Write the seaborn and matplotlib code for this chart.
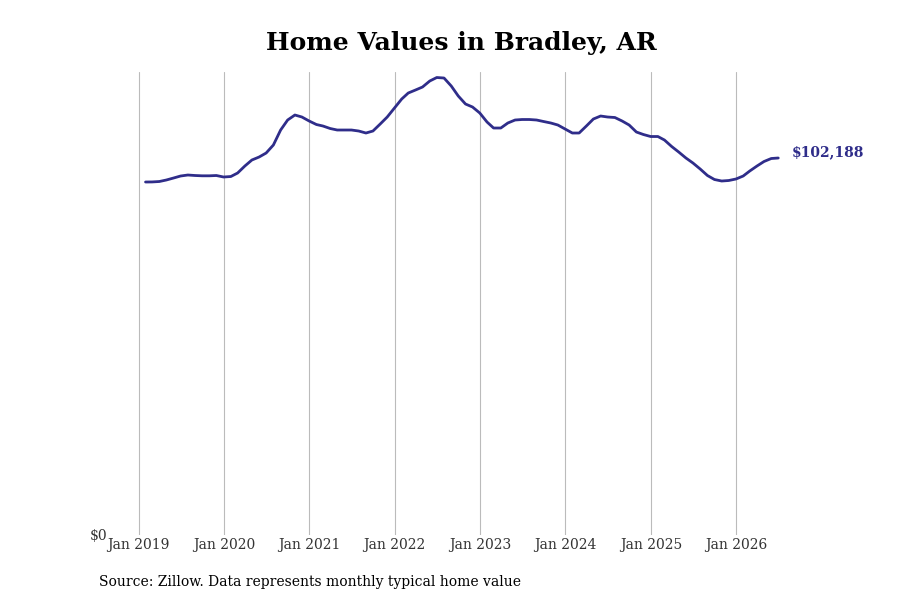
import pandas as pd
import numpy as np
import matplotlib
matplotlib.use("Agg")
import matplotlib.pyplot as plt
import matplotlib.dates as mdates
from matplotlib.ticker import FixedLocator, FuncFormatter
import seaborn as sns

start_month = "2019-01-31"
n_months = 90
home_values = [
    95681, 95700, 95816, 96223, 96765, 97307, 97578, 97443, 97362, 97362, 97443, 97036,
    97171, 98120, 100017, 101644, 102457, 103541, 105710, 109775, 112486, 113841, 113299, 112215,
    111266, 110859, 110182, 109775, 109775, 109775, 109504, 108962, 109504, 111402, 113299, 115738,
    118178, 119804, 120617, 121430, 123057, 124005, 123870, 121701, 118991, 116823, 116009, 114383,
    111944, 110317, 110317, 111673, 112486, 112622, 112622, 112486, 112079, 111673, 111131, 110046,
    108962, 108962, 110859, 112757, 113570, 113299, 113163, 112215, 111131, 109233, 108555, 108013,
    108013, 107065, 105303, 103812, 102186, 100831, 99204, 97443, 96358, 95952, 96087, 96494,
    97307, 98662, 100017, 101238, 102051, 102188,
]
tick_years = [2019, 2020, 2021, 2022, 2023, 2024, 2025, 2026]
tick_labels = [f"Jan {y}" for y in tick_years]
title = "Home Values in Bradley, AR"
source = "Source: Zillow. Data represents monthly typical home value"
end_label = "$102,188"

dates = pd.date_range(start_month, periods=n_months, freq="ME")
df = pd.DataFrame({"date": dates, "value": home_values})

sns.set_theme(style="white")
plt.rcParams["font.family"] = ["DejaVu Serif"]

line_color = "#2f2d8a"
fig = plt.figure(figsize=(9, 6), dpi=100)
ax = fig.add_axes([110 / 900, 65 / 600, 690 / 900, 463 / 600])

sns.lineplot(data=df, x="date", y="value", ax=ax, color=line_color, linewidth=2.0)

ax.set_xlim(pd.Timestamp("2018-09-01"), pd.Timestamp("2026-10-01"))
ax.set_ylim(0, 125500)

ticks = [mdates.date2num(pd.Timestamp(f"{y}-01-01")) for y in tick_years]
ax.xaxis.set_major_locator(FixedLocator(ticks))
ax.set_xticklabels(tick_labels)
ax.yaxis.set_major_locator(FixedLocator([0]))
ax.yaxis.set_major_formatter(FuncFormatter(lambda v, p: "$0"))
ax.tick_params(axis="x", labelsize=10, labelcolor="#333333", length=0, pad=2)
ax.tick_params(axis="y", labelsize=10, labelcolor="#333333", length=0, pad=2)
ax.grid(axis="x", color="#bbbbbb", linewidth=0.8)
ax.grid(axis="y", visible=False)
for s in ax.spines.values():
    s.set_visible(False)
ax.set_xlabel("")
ax.set_ylabel("")

ax.annotate(end_label, xy=(df["date"].iloc[-1], home_values[-1]), xytext=(10, 4),
            textcoords="offset points", color=line_color, fontsize=10,
            fontweight="bold", va="center", ha="left")

fig.text(461 / 900, 1 - 43 / 600, title, ha="center", va="center",
         fontsize=18, fontweight="bold", color="black")
fig.text(99 / 900, 1 - 582 / 600, source, ha="left", va="center",
         fontsize=10, color="black")

fig.savefig("out.png", dpi=100)
